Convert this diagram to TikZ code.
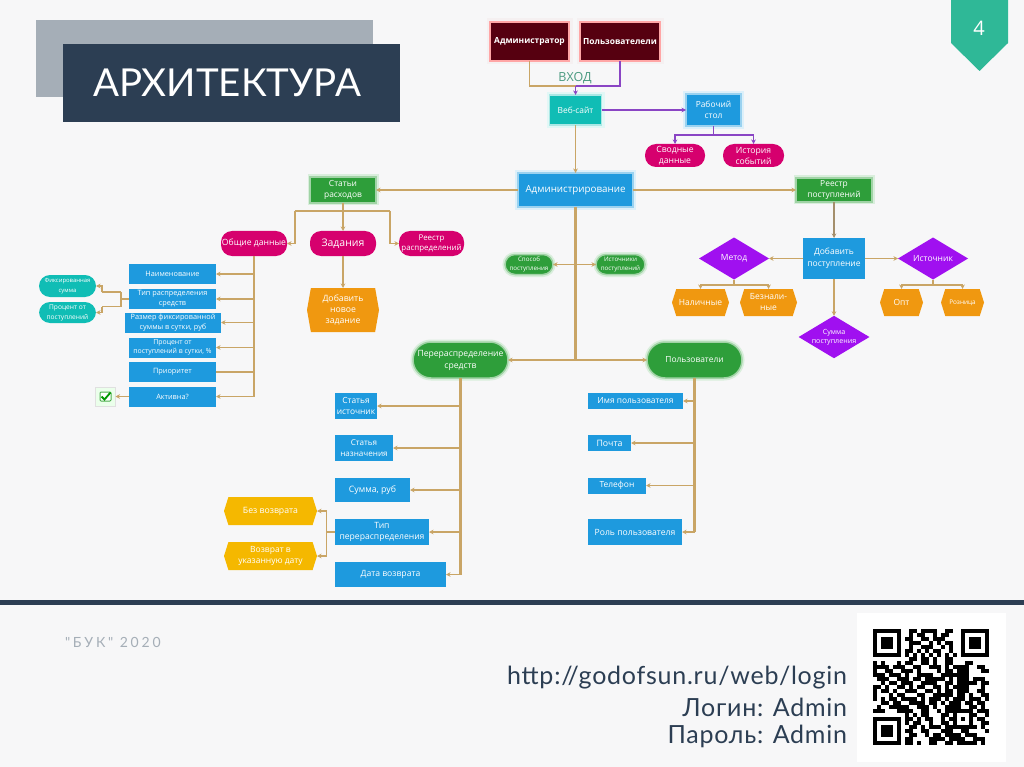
\documentclass[tikz,border=0pt]{standalone}
\usepackage{fontspec}
\setmainfont{Open Sans}
\newfontfamily\gothic{Lato}
\newfontfamily\gothicwide[LetterSpace=20]{Lato}
\newfontfamily\gothicurl[LetterSpace=3]{Lato}
\usetikzlibrary{arrows.meta,shapes.geometric,shapes.symbols}
\definecolor{bgc}{HTML}{F7F7F8}
\definecolor{navy}{HTML}{2C3E53}
\definecolor{greybar}{HTML}{A5AEB7}
\definecolor{tabg}{HTML}{2FB897}
\definecolor{blueb}{HTML}{1E9ADE}
\definecolor{greenb}{HTML}{2E9E3A}
\definecolor{magb}{HTML}{D6006E}
\definecolor{tealb}{HTML}{10BDB5}
\definecolor{orgb}{HTML}{F09810}
\definecolor{yelb}{HTML}{F5B800}
\definecolor{purb}{HTML}{A010F0}
\definecolor{maroon}{HTML}{560010}
\definecolor{tan}{HTML}{C9A566}
\definecolor{vio}{HTML}{8A45C4}
\definecolor{vhodc}{HTML}{4A9A80}
\newcount\qrx
\def\qrparse#1{\ifx#1.\else\if 1#1\fill[black] (873+4*\the\qrx,629+4*\qrrow) rectangle ++(4.05,4.05);\fi\advance\qrx 1 \expandafter\qrparse\fi}
\def\qrline#1{\qrx=0 \qrparse#1.}
\tikzset{
  x=1pt,y=-1pt,
  base/.style={align=center,text=white,inner sep=0pt,outer sep=0pt},
  bluebox/.style={base,rectangle,fill=blueb,font=\fontsize{8.4}{11}\selectfont},
  smallblue/.style={bluebox,font=\fontsize{7.3}{9.5}\selectfont},
  bluegl/.style={bluebox,preaction={draw=blueb!15,line width=6pt},draw=blueb!45,line width=1.5pt},
  grnbox/.style={base,rectangle,fill=greenb,preaction={draw=greenb!18,line width=5pt},draw=greenb!45,line width=1.5pt,font=\fontsize{8.4}{11}\selectfont},
  grnpill/.style={grnbox,rounded corners=10pt},
  magpill/.style={base,rectangle,rounded corners=11pt,fill=magb,text=white,font=\fontsize{8.6}{11}\selectfont},
  tealpill/.style={base,rectangle,rounded corners=11pt,fill=tealb,font=\fontsize{6.6}{10}\selectfont},
  marbox/.style={base,rectangle,fill=maroon,preaction={draw=maroon!6,line width=7pt},draw=red!35,line width=1.8pt,font=\bfseries\fontsize{8.4}{10}\selectfont},
  hexo/.style={base,signal,signal to=east and west,signal pointer angle=145,fill=orgb,font=\fontsize{8.5}{11}\selectfont},
  hexy/.style={hexo,fill=yelb},
  dia/.style={base,diamond,aspect=1.67,fill=purb,font=\fontsize{8.5}{10}\selectfont},
  line/.style={draw=tan,line width=1.5pt},
  trunk/.style={draw=tan,line width=2.2pt},
  vline/.style={draw=vio,line width=1.4pt},
  tip/.style={-{Stealth[length=4.5pt,width=4.5pt]}},
}
\begin{document}
\begin{tikzpicture}
\useasboundingbox (0,0) rectangle (1024,767);
\fill[bgc] (0,0) rectangle (1024,767);
% slide furniture
\fill[greybar] (36,20) rectangle (373,97);
\node[base,fill=navy,minimum width=337pt,minimum height=78pt,font=\gothic\fontsize{38.5}{44}\selectfont] (title) at (231.5,83) {АРХИТЕКТУРА\hspace*{9pt}};
\fill[tabg] (951,0) -- (1008,0) -- (1008,43) -- (979.5,71) -- (951,43) -- cycle;
\node[base,font=\fontsize{20}{24}\selectfont] (page) at (979,28) {4};
\fill[navy] (0,600) rectangle (1024,605);
\node[base,anchor=west,text=greybar,font=\gothicwide\fontsize{14}{17}\selectfont] (buk) at (65,642) {"БУК" 2020};
\node[base,anchor=east,text=navy,font=\gothicurl\fontsize{25}{29}\selectfont] (url) at (847,678) {http://godofsun.ru/web/login};
\node[base,anchor=east,text=navy,font=\gothicurl\fontsize{25}{29}\selectfont] (login) at (847,707) {Логин: Admin};
\node[base,anchor=east,text=navy,font=\gothicurl\fontsize{25}{29}\selectfont] (pass) at (847,736) {Пароль: Admin};
% QR
\fill[white] (857,613) rectangle (1006,762);
\foreach \qrs [count=\qrrow from 0] in {
11111110011011110011001111111,
10000010010110010110001000001,
10111010110011011100001011101,
10111010011100101011001011101,
10111010010011100101001011101,
10000010110101011001001000001,
11111110101010101010101111111,
00000000011011010011000000000,
10100010110011010011000110000,
11110111001100111010111100110,
10011001110100001011011100011,
11101110100111100111111100000,
01110011101101111101011101110,
00101101110011110011011111011,
11010011010110011010111100010,
10110100111001101011011100110,
10001011000110011111011010011,
10101101111010111010111011101,
00110110011110110101110110110,
01001111100111010011110011010,
11100011110011001011111110111,
00000000101011000110100011001,
11111110110101100101101010110,
10000010101100100110100010011,
10111010011010111011111111010,
10111010110011000111001100001,
10111010011001011011110111000,
10000010110000111101111001110,
11111110110100110011011111010}
{\expandafter\qrline\expandafter{\qrs}}
% top row
\node[marbox,minimum width=79pt,minimum height=39pt] (adm) at (529.5,41.5) {Администратор};
\node[marbox,minimum width=80pt,minimum height=39pt] (usr) at (620,41.5) {Пользователели};
\node[base,text=vhodc,font=\fontsize{12.5}{15}\selectfont] (vhod) at (575,78) {ВХОД};
\node[base,rectangle,fill=tealb,preaction={draw=tealb!12,line width=6pt},draw=tealb!35,line width=1.5pt,minimum width=52pt,minimum height=30pt,font=\fontsize{8.4}{11}\selectfont] (site) at (575.5,110) {Веб-сайт};
\node[bluegl,minimum width=55pt,minimum height=32pt] (desk) at (713.5,110) {Рабочий\\стол};
\node[magpill,minimum width=60pt,minimum height=23pt] (svod) at (675,155.5) {Сводные\\данные};
\node[magpill,minimum width=61pt,minimum height=23pt] (hist) at (753.5,155.5) {История\\событий};
\node[bluegl,minimum width=115pt,minimum height=34pt,font=\fontsize{9.8}{12}\selectfont] (admin) at (575.5,190) {Администрирование};
% left branch
\node[grnbox,minimum width=66pt,minimum height=26pt] (stat) at (343,190) {Статьи\\расходов};
\node[magpill,minimum width=66pt,minimum height=25pt] (obsh) at (254,243.5) {Общие данные};
\node[magpill,minimum width=66pt,minimum height=25pt,font=\fontsize{10.5}{14}\selectfont] (zad) at (343,243.5) {Задания};
\node[magpill,minimum width=65pt,minimum height=25pt,font=\fontsize{7.9}{10.5}\selectfont] (reesr) at (431.5,243.5) {Реестр\\распределений};
\node[hexo,minimum width=72pt,minimum height=44pt,signal pointer angle=160,font=\fontsize{8.7}{11}\selectfont] (addz) at (343,310) {Добавить\\новое\\задание};
\node[smallblue,minimum width=87pt,minimum height=20pt] (naim) at (172.5,274) {Наименование};
\node[smallblue,minimum width=87pt,minimum height=20pt] (tipr) at (172.5,299) {Тип распределения\\средств};
\node[smallblue,minimum width=96pt,minimum height=20pt] (razm) at (173,322.5) {Размер фиксированной\\суммы в сутки, руб};
\node[smallblue,minimum width=87pt,minimum height=20pt,font=\fontsize{6.9}{9.5}\selectfont] (proc) at (172.5,347.5) {Процент от\\поступлений в сутки, \%};
\node[smallblue,minimum width=87pt,minimum height=20pt] (prio) at (172.5,372) {Приоритет};
\node[smallblue,minimum width=87pt,minimum height=20pt] (akt) at (172.5,396.5) {Активна?};
\node[tealpill,minimum width=57pt,minimum height=22pt,font=\fontsize{5.9}{10}\selectfont] (fixs) at (67.5,286) {Фиксированная\\сумма};
\node[tealpill,minimum width=57pt,minimum height=21pt] (prps) at (67.5,312.5) {Процент от\\поступлений};
\node[base,rectangle,fill=white!92!green,draw=black!12,line width=.8pt,minimum width=20pt,minimum height=19pt] (chk) at (105.5,396.5) {};
\draw[draw=green!55!black!70,fill=white,line width=1pt,rounded corners=1pt] ([xshift=-5.5pt,yshift=-4.5pt]chk.center) rectangle ([xshift=5.5pt,yshift=4.5pt]chk.center);
\draw[draw=green!60!black,line width=1.8pt] ([xshift=-4pt,yshift=0pt]chk.center) -- ([xshift=-1pt,yshift=-3pt]chk.center) -- ([xshift=5pt,yshift=4pt]chk.center);
% centre
\node[grnpill,minimum width=48pt,minimum height=20pt,font=\fontsize{6.2}{9}\selectfont] (spos) at (529,264.5) {Способ\\поступления};
\node[grnpill,minimum width=49pt,minimum height=20pt,font=\fontsize{6.2}{9}\selectfont] (isto) at (620.5,264.5) {Источники\\поступлений};
\coordinate (midy) at (admin.south |- spos.east);
\node[grnbox,rounded corners=18pt,minimum width=95pt,minimum height=36pt,font=\fontsize{8.6}{12}\selectfont] (pere) at (460.5,360) {Перераспределение\\средств};
\node[grnbox,rounded corners=18pt,minimum width=95pt,minimum height=36pt,font=\fontsize{8.4}{12}\selectfont] (polz) at (694.5,360) {Пользователи};
\coordinate (midx) at (admin.south |- pere.east);
% redistribution items
\node[bluebox,minimum width=42pt,minimum height=26pt] (sist) at (356,406) {Статья\\источник};
\node[bluebox,minimum width=58pt,minimum height=26pt,font=\fontsize{8.1}{11}\selectfont] (snaz) at (364,448) {Статья\\назначения};
\node[bluebox,minimum width=75pt,minimum height=24pt,font=\fontsize{8.8}{11}\selectfont] (summ) at (372.5,490) {Сумма, руб};
\node[bluebox,minimum width=94pt,minimum height=26pt,font=\fontsize{8.6}{11}\selectfont] (tipp) at (382,532) {Тип\\перераспределения};
\node[bluebox,minimum width=111pt,minimum height=25pt,font=\fontsize{8.6}{11}\selectfont] (data) at (390.5,574.5) {Дата возврата};
\node[hexy,minimum width=93pt,minimum height=28pt,font=\fontsize{8.7}{11}\selectfont] (bezv) at (270.5,511) {Без возврата};
\node[hexy,minimum width=93pt,minimum height=28pt] (vozv) at (270.5,556) {Возврат в\\указанную дату};
% user items
\node[bluebox,minimum width=95pt,minimum height=16pt] (imya) at (635.5,401) {Имя пользователя};
\node[bluebox,minimum width=43pt,minimum height=16pt,font=\fontsize{8.8}{11}\selectfont] (poch) at (609.5,443) {Почта};
\node[bluebox,minimum width=58pt,minimum height=16pt] (tele) at (617,485.5) {Телефон};
\node[bluebox,minimum width=94pt,minimum height=26pt,font=\fontsize{8.6}{11}\selectfont] (role) at (635,532) {Роль пользователя};
% right branch
\node[grnbox,minimum width=76pt,minimum height=24pt] (rees) at (834,190) {Реестр\\поступлений};
\node[bluebox,minimum width=62pt,minimum height=41pt,font=\fontsize{8.5}{12}\selectfont] (addp) at (834,258.5) {Добавить\\поступление};
\node[dia,minimum width=70pt,minimum height=42pt] (metd) at (734,258.5) {Метод};
\node[dia,minimum width=70pt,minimum height=42pt] (istc) at (933,258.5) {Источник};
\node[dia,minimum width=70pt,minimum height=42pt,font=\fontsize{7.1}{9}\selectfont] (sump) at (834,337) {Сумма\\поступления};
\node[hexo,minimum width=57pt,minimum height=27pt] (nal) at (700.5,302.5) {Наличные};
\node[hexo,minimum width=57pt,minimum height=27pt] (bez) at (768.5,302.5) {Безнали-\\ные};
\node[hexo,minimum width=43pt,minimum height=27pt] (opt) at (901.5,302.5) {Опт};
\node[hexo,minimum width=43pt,minimum height=27pt,font=\fontsize{6.4}{9}\selectfont] (roz) at (962.5,302.5) {Розница};
% connectors: top
\coordinate (join) at (575.5,86);
\draw[line] (adm.south) |- (join);
\draw[vline] (usr.south) |- (join);
\draw[vline,tip] (join) -- (site.north);
\draw[vline,tip] (site.east) -- (desk.west);
\coordinate (dj) at (713.5,135);
\draw[vline] (desk.south) -- (dj);
\draw[vline,tip] (dj) -| (svod.north);
\draw[vline,tip] (dj) -| (hist.north);
\draw[line,tip] (site.south) -- (admin.north);
\draw[line,tip] (admin.east) -- (rees.west);
\draw[line,tip] (admin.west) -- (stat.east);
% connectors: left
\coordinate (sj) at (343,211);
\coordinate (sl) at (295,211);
\coordinate (sr) at (390,211);
\draw[line] (stat.south) -- (sj);
\draw[line] (sl) -- (sr);
\draw[line,tip] (sj) -- (zad.north);
\draw[line,tip] (sl) |- (obsh.east);
\draw[line,tip] (sr) |- (reesr.west);
\draw[line,tip] (zad.south) -- (addz.north);
\draw[trunk] (obsh.south) -- (obsh.south |- akt.east);
\draw[line,tip] (obsh.south |- naim.east) -- (naim.east);
\draw[line,tip] (obsh.south |- tipr.east) -- (tipr.east);
\draw[line,tip] (obsh.south |- razm.east) -- (razm.east);
\draw[line,tip] (obsh.south |- proc.east) -- (proc.east);
\draw[line] (obsh.south |- prio.east) -- (prio.east);
\draw[line,tip] (obsh.south |- akt.east) -- (akt.east);
\draw[line,tip] (akt.west) -- (chk.east);
\coordinate (tj) at (121,299);
\coordinate (tu) at (121,292);
\coordinate (td) at (121,306.5);
\coordinate (tu2) at (102,292);
\coordinate (td2) at (102,306.5);
\draw[line] (tipr.west) -- (tj);
\draw[line] (tu) -- (td);
\draw[line] (tu) -- (tu2);
\draw[line] (td) -- (td2);
\draw[line,tip] (tu2) |- (fixs.east);
\draw[line,tip] (td2) |- (prps.east);
% connectors: centre
\draw[trunk] (admin.south) -- (midx);
\draw[line,tip] (midy) -- (spos.east);
\draw[line,tip] (midy) -- (isto.west);
\draw[line,tip] (midx) -- (pere.east);
\draw[line,tip] (midx) -- (polz.west);
\draw[trunk] (pere.south) -- (pere.south |- data.east);
\draw[line,tip] (pere.south |- sist.east) -- (sist.east);
\draw[line,tip] (pere.south |- snaz.east) -- (snaz.east);
\draw[line,tip] (pere.south |- summ.east) -- (summ.east);
\draw[line,tip] (pere.south |- tipp.east) -- (tipp.east);
\draw[line,tip] (pere.south |- data.east) -- (data.east);
\coordinate (vj) at (326.5,532);
\draw[line] (tipp.west) -- (vj);
\draw[line,tip] (vj) |- (bezv.east);
\draw[line,tip] (vj) |- (vozv.east);
\draw[trunk] (polz.south) -- (polz.south |- role.east);
\draw[line,tip] (polz.south |- imya.east) -- (imya.east);
\draw[line,tip] (polz.south |- poch.east) -- (poch.east);
\draw[line,tip] (polz.south |- tele.east) -- (tele.east);
\draw[line,tip] (polz.south |- role.east) -- (role.east);
% connectors: right
\draw[line,draw=black!30!tan!80,tip] (rees.south) -- (addp.north);
\draw[line,tip] (addp.west) -- (metd.east);
\draw[line,tip] (addp.east) -- (istc.west);
\draw[line,tip] (addp.south) -- (sump.north);
\coordinate (mj) at (734,285);
\coordinate (ij) at (933,285);
\draw[line] (metd.south) -- (mj);
\draw[line,tip] (mj) -| (nal.north);
\draw[line,tip] (mj) -| (bez.north);
\draw[line] (istc.south) -- (ij);
\draw[line,tip] (ij) -| (opt.north);
\draw[line,tip] (ij) -| (roz.north);
\end{tikzpicture}
\end{document}
